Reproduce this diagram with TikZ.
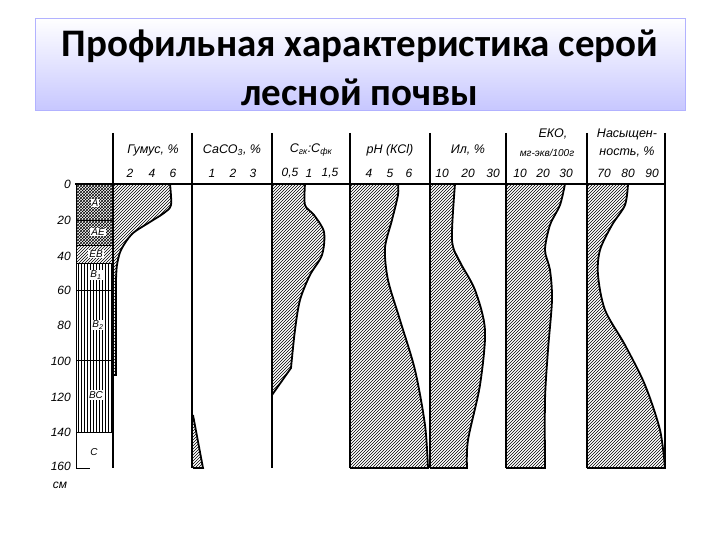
\documentclass[tikz,border=0pt]{standalone}
\usepackage{fontspec}
\setmainfont{Carlito}
\newfontfamily\lab{Liberation Sans}
\usetikzlibrary{patterns}
\begin{document}
\begin{tikzpicture}[x=1pt,y=-1pt,
  ax/.style={line width=2pt},
  crv/.style={line width=1.8pt,pattern=north east lines},
  hd/.style={font=\lab\itshape\fontsize{12.5}{12.5}\selectfont,inner sep=0pt},
  num/.style={font=\lab\itshape\fontsize{12}{12}\selectfont,inner sep=0pt},
  dep/.style={font=\lab\itshape\fontsize{12}{12}\selectfont,inner sep=0pt,anchor=east},
  ttl/.style={font=\bfseries\fontsize{39}{39}\selectfont,inner sep=0pt}]
\useasboundingbox (0,0) rectangle (720,540);
% title
\shade[top color=white,bottom color=blue!22,draw=blue!30] (35,18) rectangle (685,110);
\node[ttl] (t1) at (360,46) {Профильная характеристика серой};
\node[ttl] (t2) at (360,92) {лесной почвы};
% axis
\draw[ax] (75,184) -- (665,184);
\foreach \x in {113,192,272,350,430,506,587,665}{\draw[ax] (\x,133) -- (\x,468);}
% soil column
\fill[pattern=crosshatch] (76,185) rectangle (113,245);
\fill[pattern=north east lines] (76,245) rectangle (113,263);
\fill[pattern=vertical lines] (76,263) rectangle (113,432);
\draw[line width=1pt] (76,184) -- (76,468) -- (90,468);
\foreach \y in {220,245,263,290,360,432}{\draw[line width=0.8pt] (76,\y) -- (113,\y);}
\node[fill=white,inner sep=1pt,font=\lab\itshape] (hA) at (95,203) {А};
\node[fill=white,inner sep=1pt,font=\lab\itshape] (hAE) at (98,232) {АЕ};
\node[fill=white,inner sep=1pt,font=\lab\itshape] (hEB) at (96,254) {ЕВ};
\node[fill=white,inner sep=1pt,font=\lab\itshape] (hB1) at (96,275) {В\textsubscript{1}};
\node[fill=white,inner sep=1pt,font=\lab\itshape] (hB2) at (98,325) {В\textsubscript{2}};
\node[fill=white,inner sep=1pt,font=\lab\itshape] (hBC) at (96,395) {ВС};
\node[font=\lab\itshape] (hC) at (94,452) {С};
% depth labels
\foreach \d/\y in {0/184,20/220,40/256,60/290,80/325,100/361,120/397,140/432,160/466}{\node[dep] at (71,\y) {\d};}
\node[num] (cm) at (60,485) {см};
% headers
\node[hd] (h1) at (153,150) {Гумус, \%};
\node[hd] (h2) at (232,150) {СаСО\textsubscript{3}, \%};
\node[hd] (h3) at (311,150) {С\textsubscript{гк}:С\textsubscript{фк}};
\node[hd] (h4) at (390,150) {рН (КСl)};
\node[hd] (h5) at (468,150) {Ил, \%};
\node[hd] (h6a) at (553,134) {ЕКО,};
\node[hd,font=\lab\itshape\fontsize{10}{10}\selectfont] (h6b) at (547,153) {мг-экв/100г};
\node[hd] (h7a) at (627,134) {Насыщен-};
\node[hd] (h7b) at (627,152) {ность, \%};
\foreach \x/\t in {130/2,152/4,173/6,212/1,233/2,253/3,290/{0,5},309/1,330/{1,5},369/4,390/5,409/6,442/10,468/20,493/30,520/10,543/20,566/30,604/70,628/80,652/90}{\node[num] at (\x,173) {\t};}
% curves
\draw[crv] (113,184) -- plot[smooth] coordinates {(170,184)(171,205)(164,213)(150,222)(132,234)(121,250)(117,265)(116,280)} -- (116,375) -- (113,375);
\draw[crv] (193,415) -- (203,468) -- (193,468);
\draw[crv] (272,184) -- plot[smooth] coordinates {(305,184)(305,205)(314,215)(324,232)(322,255)(310,275)(300,300)(295,330)(291,368)} -- (272,395);
\draw[crv] (350,184) -- plot[smooth] coordinates {(398,184)(398,195)(392,220)(385,248)(388,280)(400,320)(415,370)(425,425)(428,468)} -- (350,468);
\draw[crv] (430,184) -- plot[smooth] coordinates {(455,184)(452,240)(460,262)(475,290)(485,330)(480,385)(468,440)(467,468)} -- (430,468);
\draw[crv] (506,184) -- plot[smooth] coordinates {(565,184)(560,205)(550,225)(545,250)(550,270)(552,300)(548,350)(545,400)(545,468)} -- (506,468);
\draw[crv] (587,184) -- plot[smooth] coordinates {(628,184)(625,205)(612,225)(600,250)(598,275)(605,310)(625,345)(645,385)(660,430)(665,468)} -- (587,468);
\end{tikzpicture}
\end{document}
